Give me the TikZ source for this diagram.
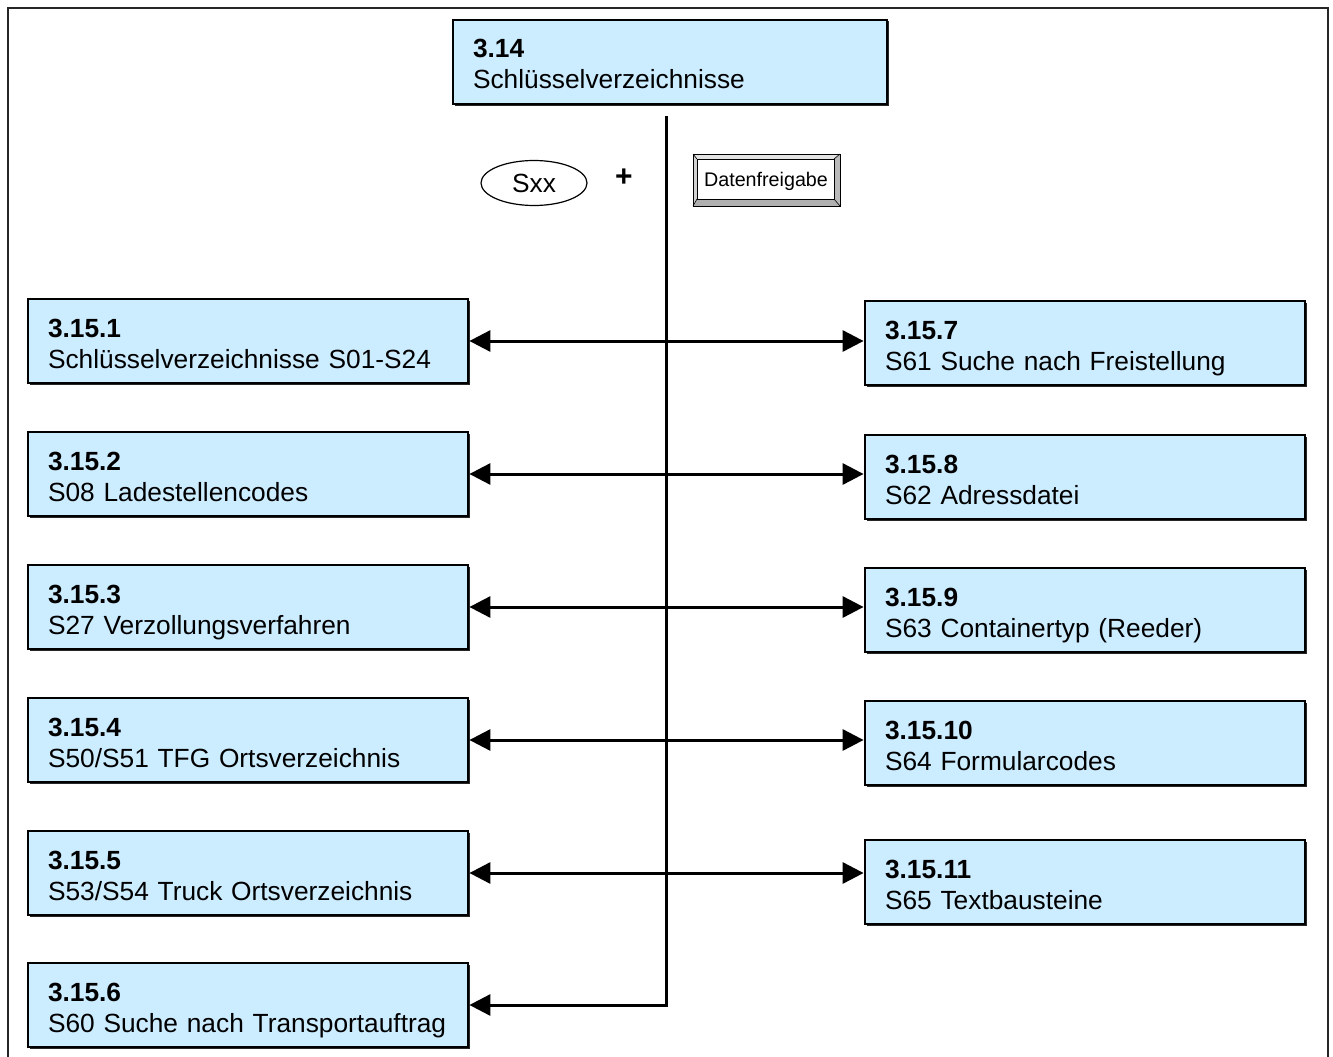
\documentclass[tikz,border=0pt]{standalone}
\usepackage{fontspec}
\setmainfont{Liberation Sans}
\usetikzlibrary{arrows.meta,shadows,shapes.geometric}
\definecolor{boxblue}{HTML}{CCECFF}
\begin{document}
\begin{tikzpicture}[x=1pt,y=-1pt,
  box/.style={draw=black, line width=2.8pt, fill=boxblue, minimum width=440pt, minimum height=84pt,
    inner xsep=20pt, inner ysep=0pt, text width=400pt, align=left,
    font=\fontsize{26.3}{31}\selectfont, text height=19pt, text depth=27pt,
    drop shadow={shadow xshift=1.5pt, shadow yshift=-1.5pt, fill=black!85, opacity=1}},
  tip/.tip={Triangle[length=21pt,width=21pt]},
  link/.style={line width=3pt, tip-tip},
  feed/.style={line width=3pt, -tip},
]
\useasboundingbox (0,0) rectangle (1333,1057);
% outer frame
\draw[line width=2pt, black!85] (8,1062) -- (8,8) -- (1328,8) -- (1328,1062);

% top box
\node[box, minimum width=434pt, text width=394pt] (top) at (670,62) {\textbf{3.14}\\Schlüsselverzeichnisse};

% left boxes
\node[box] (b1) at (248,341) {\textbf{3.15.1}\\Schlüsselverzeichnisse S01-S24};
\node[box] (b2) at (248,474) {\textbf{3.15.2}\\S08 Ladestellencodes};
\node[box] (b3) at (248,607) {\textbf{3.15.3}\\S27 Verzollungsverfahren};
\node[box] (b4) at (248,740) {\textbf{3.15.4}\\S50/S51 TFG Ortsverzeichnis};
\node[box] (b5) at (248,873) {\textbf{3.15.5}\\S53/S54 Truck Ortsverzeichnis};
\node[box] (b6) at (248,1005) {\textbf{3.15.6}\\S60 Suche nach Transportauftrag};

% right boxes
\node[box] (b7) at (1085,343) {\textbf{3.15.7}\\S61 Suche nach Freistellung};
\node[box] (b8) at (1085,477) {\textbf{3.15.8}\\S62 Adressdatei};
\node[box] (b9) at (1085,610) {\textbf{3.15.9}\\S63 Containertyp (Reeder)};
\node[box] (b10) at (1085,743) {\textbf{3.15.10}\\S64 Formularcodes};
\node[box] (b11) at (1085,882) {\textbf{3.15.11}\\S65 Textbausteine};

% Sxx + Datenfreigabe
\node[draw, ellipse, line width=1.2pt, minimum width=106pt, minimum height=45pt, inner sep=0pt,
  font=\fontsize{26.3}{30}\selectfont] (sxx) at (534,183) {Sxx};
\node[font=\bfseries\fontsize{30}{32}\selectfont, inner sep=0pt] (plus) at (624,178) {+};

% button
\fill[gray!22] (693,154) -- (840,154) -- (834,159) -- (697,159) -- cycle;
\fill[gray!35] (693,154) -- (697,159) -- (697,199) -- (693,206) -- cycle;
\fill[gray!55] (840,154) -- (840,206) -- (834,199) -- (834,159) -- cycle;
\fill[gray!62] (693,206) -- (840,206) -- (834,199) -- (697,199) -- cycle;
\draw[line width=0.9pt] (693,154) rectangle (840,206);
\draw[line width=0.9pt, fill=white] (697,159) rectangle (834,199);
\draw[line width=0.6pt] (693,154) -- (697,159) (840,154) -- (834,159) (693,206) -- (697,199) (840,206) -- (834,199);
\node[font=\fontsize{19.7}{22}\selectfont, inner sep=0pt] (df) at (766,181) {Datenfreigabe};

% main vertical line and connectors
\coordinate (vtop) at (666,116);
\draw[feed] (vtop) -- (vtop |- b6.east) -- (b6.east);
\draw[link] (b1.east) -- (b1.east -| b7.west);
\draw[link] (b2.east) -- (b2.east -| b8.west);
\draw[link] (b3.east) -- (b3.east -| b9.west);
\draw[link] (b4.east) -- (b4.east -| b10.west);
\draw[link] (b5.east) -- (b5.east -| b11.west);
\end{tikzpicture}
\end{document}
